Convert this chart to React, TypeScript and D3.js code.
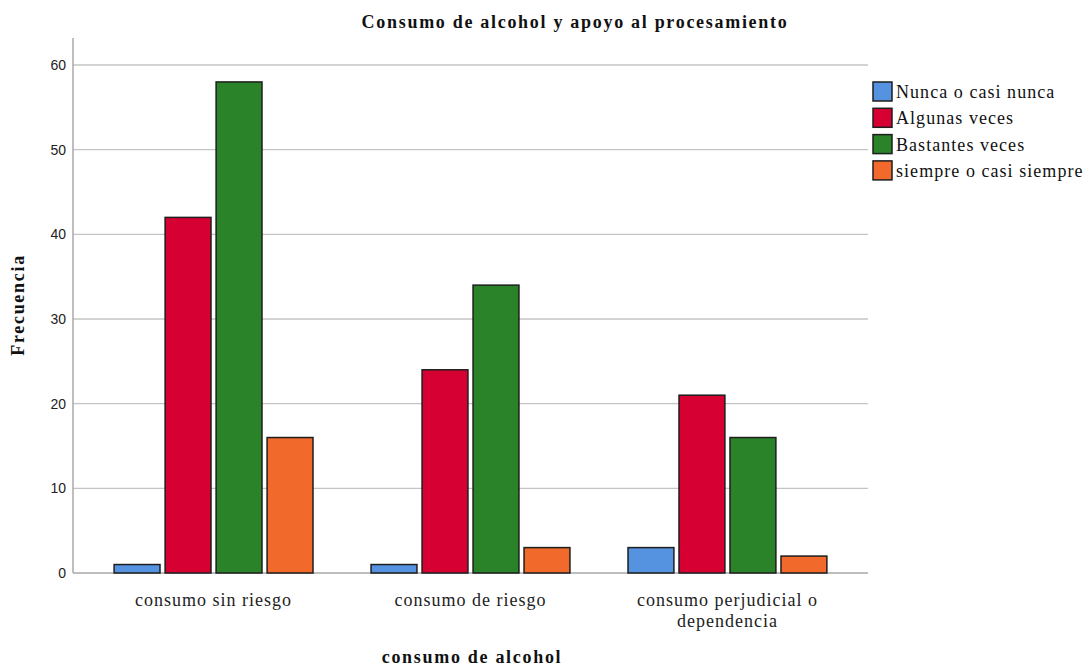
import {useEffect, useRef} from "react";
import * as d3 from "d3";

const categories = ["consumo sin riesgo", "consumo de riesgo", "consumo perjudicial o dependencia"];
const categoryLines = [["consumo sin riesgo"], ["consumo de riesgo"], ["consumo perjudicial o", "dependencia"]];
const seriesNames = ["Nunca o casi nunca", "Algunas veces", "Bastantes veces", "siempre o casi siempre"];
const seriesColors = ["#5592DF", "#D70033", "#2A8329", "#F2692C"];
const nunca = [1, 1, 3];
const algunas = [42, 24, 21];
const bastantes = [58, 34, 16];
const siempre = [16, 3, 2];
const yTicks = [0, 10, 20, 30, 40, 50, 60];

const serif = "'Liberation Serif', 'Times New Roman', serif";
const sans = "'Liberation Sans', Arial, sans-serif";

export default function App() {
  const svgRef = useRef<SVGSVGElement>(null);

  useEffect(() => {
    if (!svgRef.current) return;
    const width = 1087;
    const height = 667;
    const left = 73;
    const right = 868;
    const top = 38;
    const bottom = 573;

    const svg = d3.select(svgRef.current);
    svg.selectAll("*").remove();
    svg.attr("width", width).attr("height", height).style("background", "white");

    const series = [nunca, algunas, bastantes, siempre];

    const x0 = d3.scaleBand<string>().domain(categories).range([left, right]).paddingInner(0.226).paddingOuter(0.16);
    const x1 = d3
      .scaleBand<string>()
      .domain(seriesNames)
      .range([0, x0.bandwidth()])
      .paddingInner(0.1)
      .paddingOuter(0);
    const y = d3.scaleLinear().domain([0, 60]).range([bottom, 65]);

    // líneas de cuadrícula
    svg
      .selectAll(".grid")
      .data(yTicks.filter((t) => t > 0))
      .enter()
      .append("line")
      .attr("x1", left)
      .attr("x2", right)
      .attr("y1", (d) => y(d))
      .attr("y2", (d) => y(d))
      .style("stroke", "#c4c4c4")
      .style("stroke-width", 1.3);

    // ejes
    svg.append("line").attr("x1", left).attr("x2", left).attr("y1", top).attr("y2", bottom)
      .style("stroke", "#a8a8a8").style("stroke-width", 1.5);
    svg.append("line").attr("x1", left).attr("x2", right).attr("y1", bottom).attr("y2", bottom)
      .style("stroke", "#a8a8a8").style("stroke-width", 1.5);

    // etiquetas del eje y
    svg
      .selectAll(".ytick")
      .data(yTicks)
      .enter()
      .append("text")
      .attr("x", left - 7)
      .attr("y", (d) => y(d))
      .attr("dy", "0.36em")
      .style("text-anchor", "end")
      .style("font-family", sans)
      .style("font-size", "14px")
      .style("fill", "#222")
      .text((d) => d);

    // barras
    const groups = svg
      .selectAll(".group")
      .data(categories)
      .enter()
      .append("g")
      .attr("transform", (d) => `translate(${x0(d)},0)`);

    groups
      .selectAll("rect")
      .data((_, i) => series.map((s, j) => ({name: seriesNames[j], value: s[i], color: seriesColors[j]})))
      .enter()
      .append("rect")
      .attr("x", (d) => x1(d.name)!)
      .attr("y", (d) => y(d.value))
      .attr("width", x1.bandwidth())
      .attr("height", (d) => bottom - y(d.value))
      .style("fill", (d) => d.color)
      .style("stroke", "#1e1e1e")
      .style("stroke-width", 1.5);

    // etiquetas de categoría
    categories.forEach((c, i) => {
      const cx = x0(c)! + x0.bandwidth() / 2;
      categoryLines[i].forEach((line, k) => {
        svg
          .append("text")
          .attr("x", cx)
          .attr("y", 606 + k * 21)
          .style("text-anchor", "middle")
          .style("font-family", serif)
          .style("font-size", "18px")
          .style("letter-spacing", "1px")
          .style("fill", "#222")
          .text(line);
      });
    });

    // título
    svg
      .append("text")
      .attr("x", 575)
      .attr("y", 28)
      .style("text-anchor", "middle")
      .style("font-family", serif)
      .style("font-size", "18px")
      .style("letter-spacing", "1.7px")
      .style("font-weight", "bold")
      .style("fill", "#111")
      .text("Consumo de alcohol y apoyo al procesamiento");

    // títulos de los ejes
    svg
      .append("text")
      .attr("transform", `translate(24,305) rotate(-90)`)
      .style("text-anchor", "middle")
      .style("font-family", serif)
      .style("font-size", "18px")
      .style("letter-spacing", "1.7px")
      .style("font-weight", "bold")
      .style("fill", "#111")
      .text("Frecuencia");
    svg
      .append("text")
      .attr("x", 472)
      .attr("y", 663)
      .style("text-anchor", "middle")
      .style("font-family", serif)
      .style("font-size", "18px")
      .style("letter-spacing", "1.7px")
      .style("font-weight", "bold")
      .style("fill", "#111")
      .text("consumo de alcohol");

    // leyenda
    const legend = svg
      .selectAll(".legend")
      .data(seriesNames)
      .enter()
      .append("g")
      .attr("transform", (_, i) => `translate(873,${82 + i * 26.3})`);
    legend
      .append("rect")
      .attr("width", 19)
      .attr("height", 19)
      .style("fill", (_, i) => seriesColors[i])
      .style("stroke", "#1e1e1e")
      .style("stroke-width", 1.5);
    legend
      .append("text")
      .attr("x", 23)
      .attr("y", 16)
      .style("font-family", serif)
      .style("font-size", "18px")
      .style("letter-spacing", "1.05px")
      .style("fill", "#111")
      .text((d) => d);
  }, []);

  return <svg ref={svgRef} style={{display: "block", position: "absolute", left: 0, top: 0}} />;
}
